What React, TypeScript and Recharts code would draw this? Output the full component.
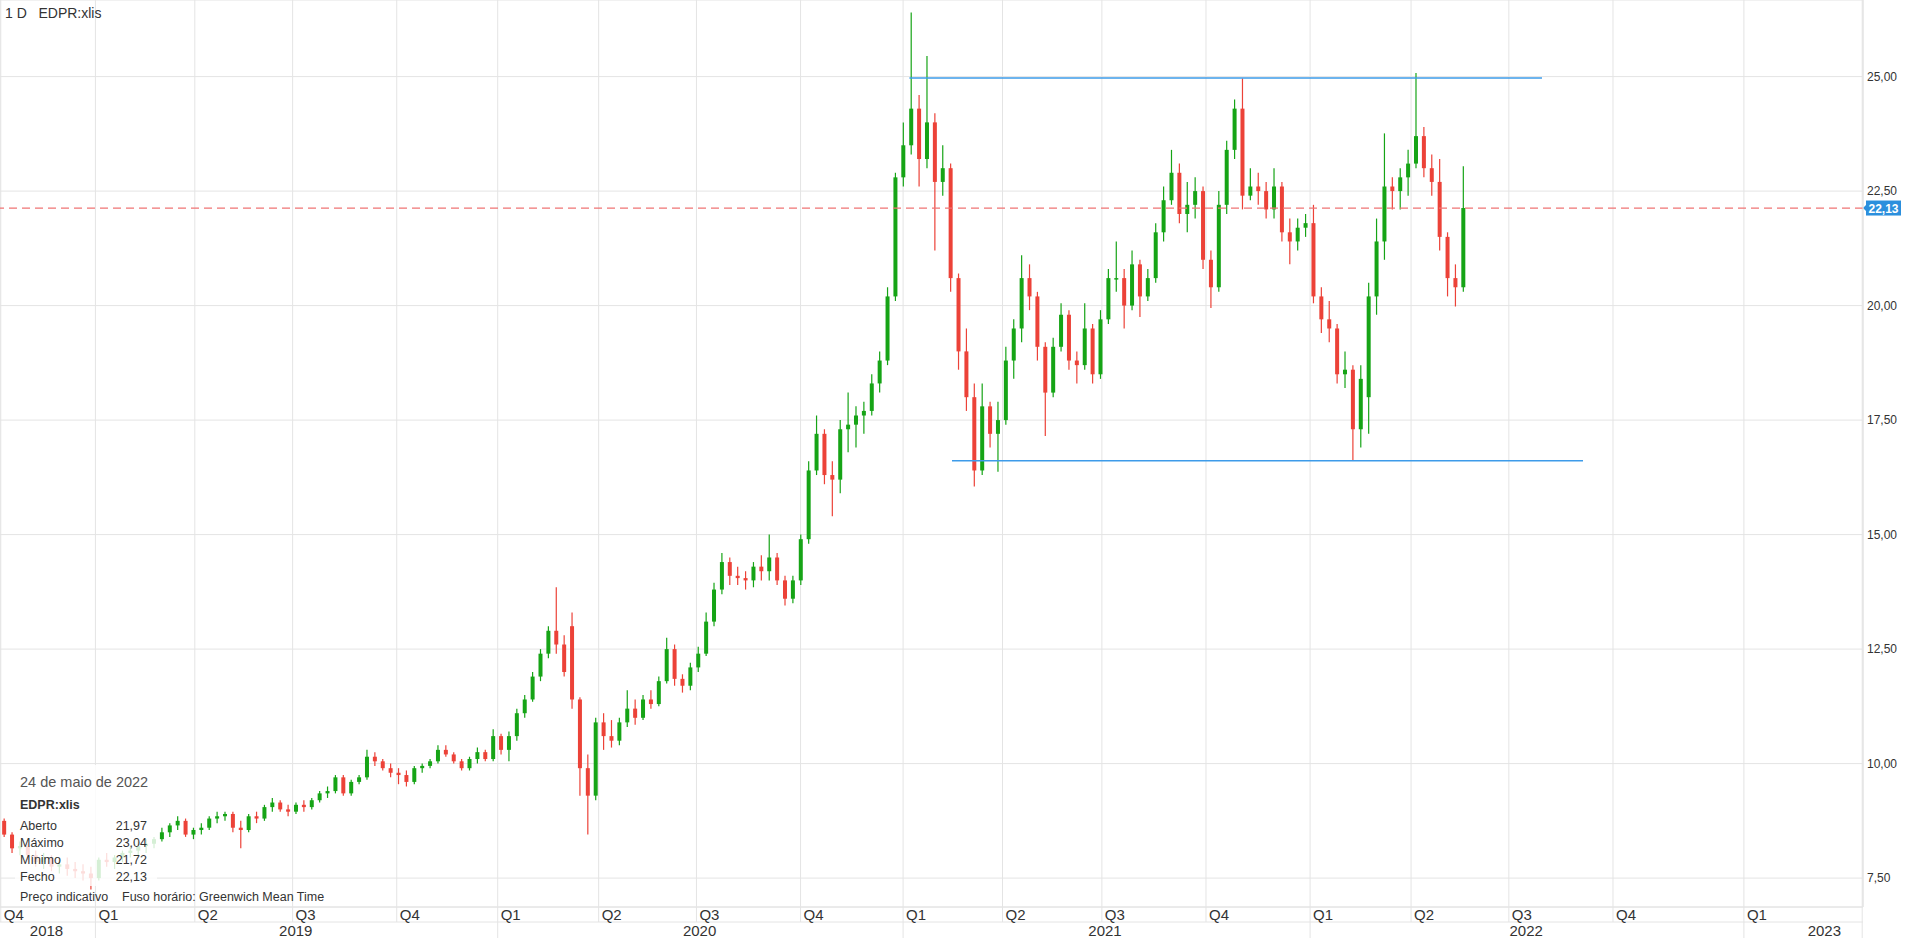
import React from 'react';
import { ComposedChart, Bar, XAxis, YAxis, CartesianGrid, ReferenceLine } from 'recharts';

// Weekly OHLC (one candle = one trading week), Oct 2018 .. 24 May 2022
const opens = [
  8.75, 8.45, 8.15, 8.2, 8.0, 7.85, 7.95, 7.75, 7.8, 7.7,
  7.65, 7.6, 7.5, 7.9, 7.85, 7.95, 8.05, 8.1, 8.2, 8.25,
  8.35, 8.5, 8.65, 8.75, 8.45, 8.55, 8.6, 8.8, 8.85, 8.9,
  8.6, 8.55, 8.85, 8.8, 9.05, 9.15, 9.0, 8.95, 9.1, 9.05,
  9.2, 9.35, 9.4, 9.7, 9.35, 9.6, 9.7, 10.15, 10.05, 9.9,
  9.8, 9.75, 9.6, 9.9, 9.95, 10.05, 10.3, 10.2, 10.05, 9.9,
  10.1, 10.25, 10.1, 10.6, 10.3, 10.6, 11.1, 11.4, 11.9, 12.4,
  12.9, 12.6, 13.0, 11.4, 9.9, 9.3, 10.9, 10.6, 10.5, 10.9,
  11.2, 11.0, 11.4, 11.3, 11.8, 12.5, 11.85, 11.7, 12.1, 12.4,
  13.1, 13.8, 14.4, 14.1, 14.05, 14.0, 14.3, 14.2, 14.5, 14.0,
  13.6, 14.0, 14.9, 16.4, 17.2, 16.3, 16.2, 17.3, 17.4, 17.6,
  17.7, 18.3, 18.8, 20.2, 22.8, 23.5, 24.3, 23.2, 24.0, 22.7,
  23.0, 20.6, 19.0, 18.0, 16.4, 17.8, 17.2, 17.5, 18.8, 19.5,
  20.6, 20.2, 19.1, 18.1, 19.1, 19.8, 18.8, 18.7, 19.5, 18.5,
  19.7, 20.6, 20.6, 20.0, 20.9, 20.2, 20.6, 21.6, 22.3, 22.9,
  22.0, 22.2, 22.5, 21.0, 20.4, 22.2, 23.4, 24.3, 22.4, 22.6,
  22.5, 22.1, 22.6, 21.6, 21.4, 21.7, 21.8, 20.2, 19.7, 19.5,
  18.5, 18.6, 17.3, 18.0, 20.2, 21.4, 22.6, 22.5, 22.8, 23.1,
  23.7, 23.0, 22.7, 21.5, 20.6, 20.4,
];
const highs = [
  8.8, 8.5, 8.3, 8.25, 8.1, 8.05, 8.0, 7.9, 7.95, 7.85,
  7.8, 7.75, 7.95, 8.05, 8.0, 8.1, 8.2, 8.3, 8.35, 8.4,
  8.6, 8.7, 8.85, 8.8, 8.6, 8.7, 8.85, 8.95, 8.95, 8.95,
  8.75, 8.9, 8.95, 9.1, 9.25, 9.2, 9.1, 9.15, 9.2, 9.25,
  9.4, 9.5, 9.75, 9.75, 9.65, 9.75, 10.3, 10.25, 10.1, 10.0,
  9.9, 9.85, 9.95, 10.0, 10.1, 10.4, 10.4, 10.25, 10.1, 10.15,
  10.35, 10.3, 10.75, 10.65, 10.7, 11.2, 11.5, 12.0, 12.5, 13.0,
  13.85, 12.8, 13.3, 11.45, 10.2, 11.0, 11.1, 10.95, 11.0, 11.6,
  11.4, 11.5, 11.6, 11.9, 12.75, 12.6, 11.95, 12.2, 12.55, 13.3,
  13.95, 14.6, 14.5, 14.3, 14.2, 14.4, 14.55, 15.0, 14.6, 14.1,
  14.1, 15.0, 16.6, 17.6, 17.3, 16.6, 17.5, 18.1, 17.8, 17.9,
  18.5, 19.0, 20.4, 22.9, 24.0, 26.4, 24.6, 25.45, 24.2, 23.5,
  23.1, 20.7, 19.5, 18.3, 18.3, 17.9, 17.9, 19.1, 19.7, 21.1,
  20.9, 20.3, 19.2, 19.3, 20.05, 19.9, 19.0, 20.05, 19.6, 19.9,
  20.8, 21.4, 20.8, 21.2, 21.0, 20.8, 21.8, 22.6, 23.4, 23.1,
  22.7, 22.8, 22.6, 21.2, 22.5, 23.6, 24.5, 24.96, 23.0, 22.9,
  22.7, 23.0, 22.7, 21.9, 21.9, 22.0, 22.2, 20.4, 20.1, 19.6,
  19.0, 18.7, 18.7, 20.5, 21.9, 23.76, 22.8, 23.0, 23.4, 25.08,
  23.9, 23.3, 23.2, 21.6, 20.9, 23.04,
];
const lows = [
  8.4, 8.05, 8.0, 7.9, 7.75, 7.7, 7.65, 7.6, 7.55, 7.5,
  7.45, 7.25, 7.45, 7.75, 7.7, 7.85, 7.95, 8.0, 8.05, 8.15,
  8.3, 8.4, 8.55, 8.4, 8.35, 8.45, 8.55, 8.7, 8.75, 8.5,
  8.15, 8.5, 8.7, 8.75, 8.95, 8.95, 8.85, 8.9, 8.95, 9.0,
  9.15, 9.25, 9.35, 9.3, 9.3, 9.55, 9.65, 9.95, 9.85, 9.7,
  9.55, 9.5, 9.55, 9.8, 9.9, 10.0, 10.15, 10.0, 9.85, 9.85,
  10.0, 10.05, 10.05, 10.2, 10.05, 10.5, 11.0, 11.35, 11.8, 12.3,
  12.4, 11.9, 11.2, 9.3, 8.45, 9.2, 10.3, 10.35, 10.4, 10.8,
  10.85, 10.95, 11.2, 11.25, 11.75, 11.7, 11.55, 11.6, 12.0, 12.35,
  13.0, 13.7, 13.9, 13.9, 13.8, 13.85, 14.0, 14.0, 13.9, 13.45,
  13.5, 13.9, 14.8, 16.3, 16.1, 15.4, 15.9, 16.8, 16.9, 17.2,
  17.6, 18.1, 18.7, 20.1, 22.6, 23.3, 22.6, 23.0, 21.2, 22.4,
  20.3, 18.6, 17.7, 16.05, 16.3, 16.9, 16.37, 17.4, 18.4, 19.2,
  19.9, 18.8, 17.15, 18.0, 19.0, 18.6, 18.3, 18.6, 18.3, 18.4,
  19.6, 20.3, 19.5, 19.9, 19.75, 20.1, 20.5, 21.4, 22.2, 21.8,
  21.6, 21.9, 20.8, 19.95, 20.3, 22.0, 23.2, 22.1, 22.3, 22.2,
  21.9, 21.9, 21.4, 20.9, 21.2, 21.5, 20.05, 19.4, 19.2, 18.3,
  18.2, 16.61, 16.9, 17.2, 19.8, 21.0, 22.1, 22.1, 22.4, 23.0,
  22.8, 22.4, 21.2, 20.2, 19.98, 20.3,
];
const closes = [
  8.45, 8.15, 8.2, 8.0, 7.85, 7.95, 7.75, 7.8, 7.7, 7.65,
  7.6, 7.5, 7.9, 7.85, 7.95, 8.05, 8.1, 8.2, 8.25, 8.35,
  8.5, 8.65, 8.75, 8.45, 8.55, 8.6, 8.8, 8.85, 8.9, 8.6,
  8.55, 8.85, 8.8, 9.05, 9.15, 9.0, 8.95, 9.1, 9.05, 9.2,
  9.35, 9.4, 9.7, 9.35, 9.6, 9.7, 10.15, 10.05, 9.9, 9.8,
  9.75, 9.6, 9.9, 9.95, 10.05, 10.3, 10.2, 10.05, 9.9, 10.1,
  10.25, 10.1, 10.6, 10.3, 10.6, 11.1, 11.4, 11.9, 12.4, 12.9,
  12.6, 12.0, 11.4, 9.9, 9.3, 10.9, 10.6, 10.5, 10.9, 11.2,
  11.0, 11.4, 11.3, 11.8, 12.5, 11.85, 11.7, 12.1, 12.4, 13.1,
  13.8, 14.4, 14.1, 14.05, 14.0, 14.3, 14.2, 14.5, 14.0, 13.6,
  14.0, 14.9, 16.4, 17.2, 16.3, 16.2, 17.3, 17.4, 17.6, 17.7,
  18.3, 18.8, 20.2, 22.8, 23.5, 24.3, 23.2, 24.0, 22.7, 23.0,
  20.6, 19.0, 18.0, 16.4, 17.8, 17.2, 17.5, 18.8, 19.5, 20.6,
  20.2, 19.1, 18.1, 19.1, 19.8, 18.8, 18.7, 19.5, 18.5, 19.7,
  20.6, 20.6, 20.0, 20.9, 20.2, 20.6, 21.6, 22.3, 22.9, 22.0,
  22.2, 22.5, 21.0, 20.4, 22.2, 23.4, 24.3, 22.4, 22.6, 22.5,
  22.1, 22.6, 21.6, 21.4, 21.7, 21.8, 20.2, 19.7, 19.5, 18.5,
  18.6, 17.3, 18.4, 20.2, 21.4, 22.6, 22.5, 22.8, 23.1, 23.7,
  23.0, 22.7, 21.5, 20.6, 20.4, 22.13,
];

// Time axis: trading-day slots (includes the empty future part of the axis)
const TOTAL_SLOTS = 1181;
const DAYS_PER_CANDLE = 5;

const quarterLabels = ['Q4', 'Q1', 'Q2', 'Q3', 'Q4', 'Q1', 'Q2', 'Q3', 'Q4', 'Q1', 'Q2', 'Q3', 'Q4', 'Q1', 'Q2', 'Q3', 'Q4', 'Q1'];
const quarterStarts = [0, 60, 123, 185, 251, 315, 379, 441, 507, 572, 635, 698, 764, 830, 894, 956, 1022, 1105];
const yearLabels = ['2018', '2019', '2020', '2021', '2022', '2023'];
const yearLabelSlots = [29, 187, 443, 700, 967, 1156];

const priceTicks = [7.5, 10, 12.5, 15, 17.5, 20, 22.5, 25];
const priceDomain = [6.869, 26.672];
const lastPrice = 22.13;

const trendLevels = [24.97, 16.61];
const trendStarts = [576, 603];
const trendEnds = [977, 1003];

const infoLabels = ['Aberto', 'Máximo', 'Mínimo', 'Fecho'];
const infoValues = ['21,97', '23,04', '21,72', '22,13'];

const GREEN = '#16a416';
const RED = '#ec4238';
const GRID = '#e4e4e4';
const BLUE = '#3d9be9';
const NARROW = "'Liberation Sans Narrow', 'Arial Narrow', 'Liberation Sans', Arial, sans-serif";
const SANS = "'Liberation Sans', Arial, sans-serif";

const table = Array.from({ length: TOTAL_SLOTS }, (_, i) => {
  const k = (i - 2) / DAYS_PER_CANDLE;
  if (Number.isInteger(k) && k >= 0 && k < opens.length) {
    return { i, o: opens[k], h: highs[k], l: lows[k], c: closes[k], range: [lows[k], highs[k]] };
  }
  return { i, range: null as any };
});

const fmt = (v: number) => v.toFixed(2).replace('.', ',');

const Candle = (props: any) => {
  const { x, y, width, height, payload } = props;
  if (!payload || payload.o == null || !isFinite(y) || !isFinite(height)) return null;
  const top = Math.min(y, y + height);
  const h = Math.abs(height);
  const span = payload.h - payload.l;
  const ppu = span > 0 ? h / span : 0;
  const cx = x + width / 2;
  const up = payload.c >= payload.o;
  const color = up ? GREEN : RED;
  const bTop = top + (payload.h - Math.max(payload.o, payload.c)) * ppu;
  const bBot = top + (payload.h - Math.min(payload.o, payload.c)) * ppu;
  return (
    <g>
      <line x1={cx} x2={cx} y1={top} y2={top + h} stroke={color} strokeWidth={1.2} />
      <rect x={cx - 2} y={bTop} width={4} height={Math.max(1.5, bBot - bTop)} fill={color} />
    </g>
  );
};

const QuarterTick = (props: any) => {
  const { x, y, payload } = props;
  const idx = quarterStarts.indexOf(payload.value);
  const label = idx >= 0 ? quarterLabels[idx] : '';
  const long = label === 'Q1' || idx < 0;
  return (
    <g>
      <line x1={x} x2={x} y1={y} y2={y + (long ? 31 : 15)} stroke={GRID} strokeWidth={1} />
      <text x={x + 3} y={y + 13} fontSize={15} fontFamily={NARROW} fill="#333">{label}</text>
    </g>
  );
};

const YearTick = (props: any) => {
  const { x, y, payload } = props;
  const idx = yearLabelSlots.indexOf(payload.value);
  return (
    <text x={x} y={y + 14} textAnchor="middle" fontSize={15} fontFamily={NARROW} fill="#333">
      {idx >= 0 ? yearLabels[idx] : ''}
    </text>
  );
};

const PriceTag = (props: any) => {
  const vb = props.viewBox || {};
  const x = (vb.x || 0) + (vb.width || 0);
  const y = vb.y || 0;
  return (
    <g>
      <polygon points={`${x},${y} ${x + 4},${y - 4} ${x + 4},${y + 4}`} fill="#2b8fdd" />
      <rect x={x + 3} y={y - 7.5} width={35} height={15} fill="#2b8fdd" />
      <text x={x + 20.5} y={y + 4.5} textAnchor="middle" fontSize={12} fontWeight="bold" fontFamily={SANS} fill="#fff">
        {fmt(lastPrice)}
      </text>
    </g>
  );
};

export default function App() {
  return (
    <div style={{ position: 'absolute', left: 0, top: 0, width: 1905, height: 938, background: '#fff', overflow: 'hidden' }}>
      <ComposedChart
        width={1905}
        height={938}
        data={table}
        margin={{ top: 0, right: 0, bottom: 0, left: 0 }}
        barCategoryGap={0}
      >
        <CartesianGrid stroke={GRID} strokeWidth={1} />
        <XAxis
          dataKey="i"
          type="category"
          ticks={[...quarterStarts, TOTAL_SLOTS - 1]}
          interval={0}
          height={15}
          tickSize={0}
          tickMargin={0}
          tickLine={false}
          axisLine={{ stroke: GRID }}
          tick={<QuarterTick />}
        />
        <XAxis
          xAxisId="year"
          dataKey="i"
          type="category"
          ticks={yearLabelSlots}
          interval={0}
          height={16}
          tickSize={0}
          tickMargin={0}
          tickLine={false}
          axisLine={{ stroke: GRID }}
          tick={<YearTick />}
        />
        <YAxis
          orientation="right"
          type="number"
          domain={priceDomain}
          allowDataOverflow
          ticks={priceTicks}
          interval={0}
          width={42}
          tickSize={0}
          tickMargin={4}
          tickLine={false}
          axisLine={{ stroke: GRID }}
          tickFormatter={fmt}
          tick={{ fontSize: 12, fill: '#333', fontFamily: SANS }}
        />
        <Bar dataKey="range" shape={<Candle />} isAnimationActive={false} />
        <ReferenceLine
          y={lastPrice}
          stroke="#ef7474"
          strokeDasharray="8 5"
          strokeWidth={1.3}
          label={<PriceTag />}
        />
        {trendLevels.map((lvl, j) => (
          <ReferenceLine
            key={j}
            segment={[{ x: trendStarts[j], y: lvl }, { x: trendEnds[j], y: lvl }]}
            stroke={BLUE}
            strokeWidth={1.5}
          />
        ))}
      </ComposedChart>

      <div style={{ position: 'absolute', left: 5, top: 5, fontFamily: SANS, fontSize: 14, color: '#333', whiteSpace: 'pre' }}>
        {'1 D   EDPR:xlis'}
      </div>

      <div
        style={{
          position: 'absolute', left: 15, top: 765, width: 142, height: 121,
          background: 'rgba(255,255,255,0.82)', fontFamily: SANS, color: '#333',
        }}
      >
        <div style={{ position: 'absolute', left: 5, top: 9, fontSize: 14.5, color: '#555', whiteSpace: 'nowrap' }}>24 de maio de 2022</div>
        <div style={{ position: 'absolute', left: 5, top: 33, fontSize: 12.5, fontWeight: 'bold', whiteSpace: 'nowrap' }}>EDPR:xlis</div>
        {infoLabels.map((lab, j) => (
          <div key={lab} style={{ position: 'absolute', left: 5, top: 54 + j * 17, width: 127, fontSize: 12.5, display: 'flex', justifyContent: 'space-between' }}>
            <span>{lab}</span>
            <span>{infoValues[j]}</span>
          </div>
        ))}
      </div>
      <div style={{ position: 'absolute', left: 20, top: 890, fontFamily: SANS, fontSize: 12.5, color: '#333', whiteSpace: 'nowrap' }}>
        <span>Preço indicativo</span>
        <span style={{ position: 'absolute', left: 102 }}>Fuso horário: Greenwich Mean Time</span>
      </div>
    </div>
  );
}
